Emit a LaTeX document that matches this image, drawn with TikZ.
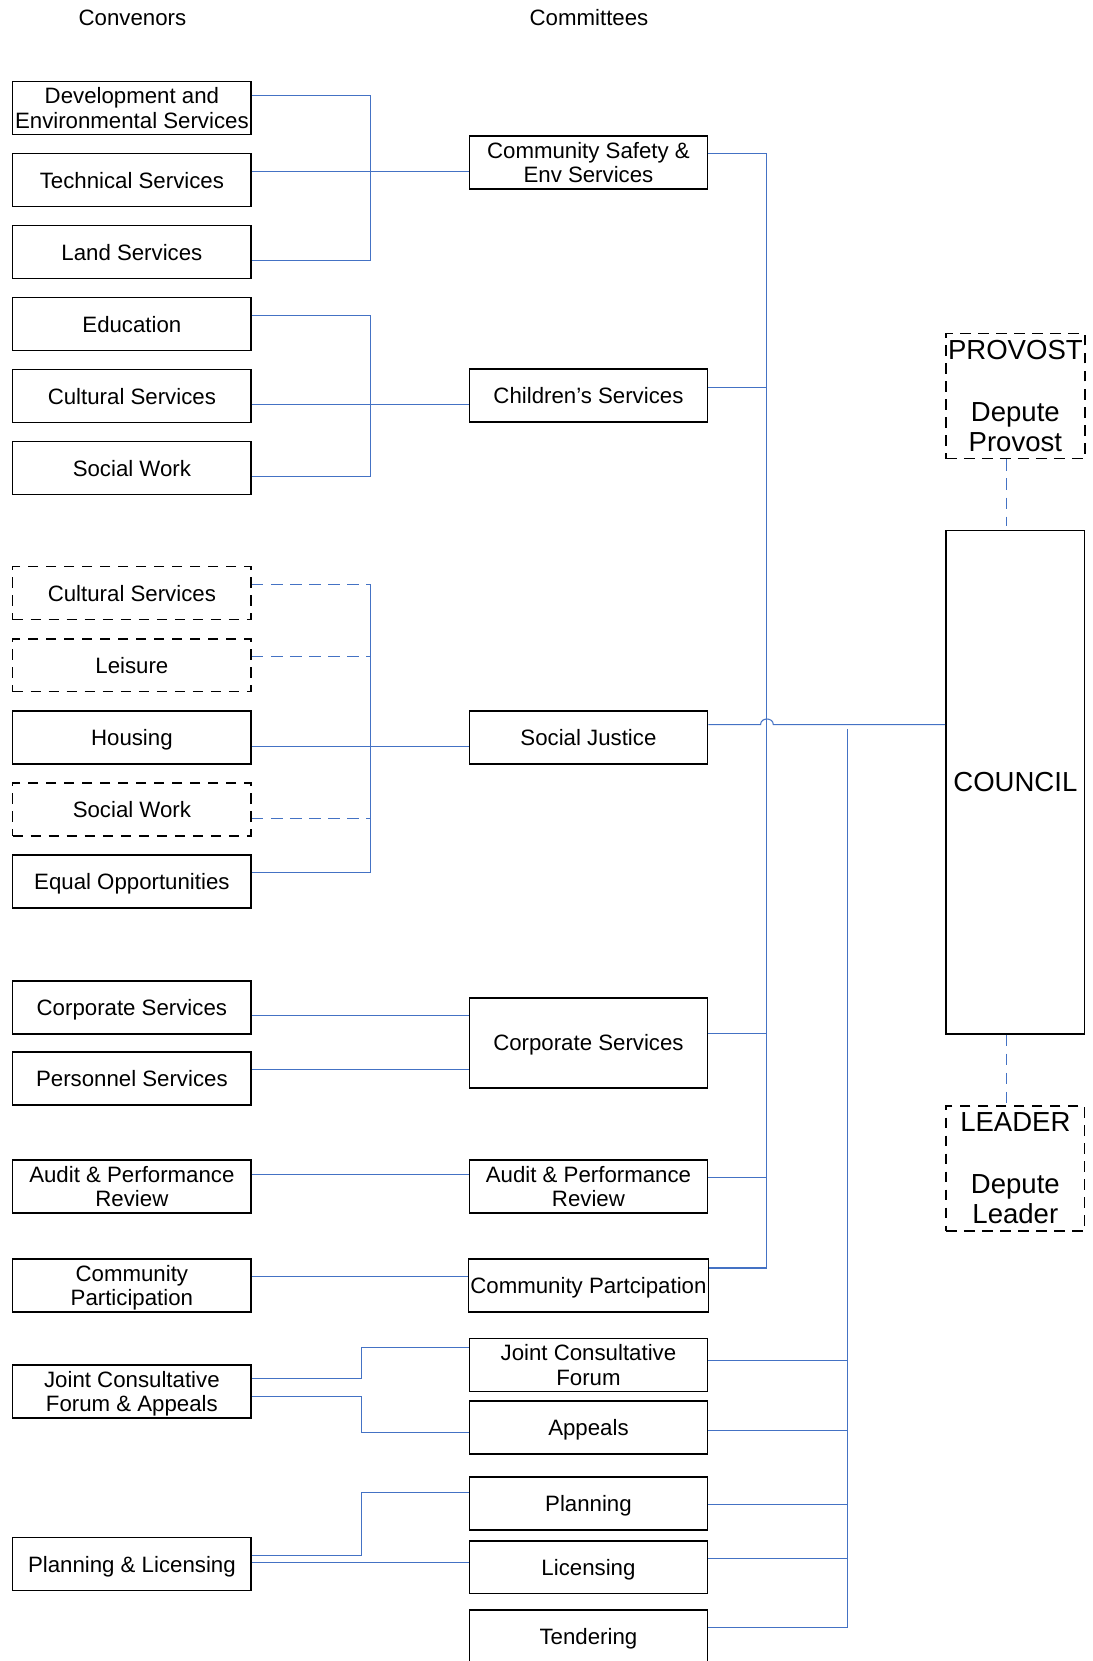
\documentclass[tikz,border=0pt]{standalone}
\usepackage{fontspec}
\setmainfont{Liberation Sans}
\definecolor{linkblue}{RGB}{68,114,196}
\begin{document}
\begin{tikzpicture}[x=0.5pt, y=-0.5pt,
  box/.style={draw, line width=0.7pt, minimum width=112.5pt, minimum height=25pt,
    inner sep=1pt, text depth=0pt, align=center, font=\fontsize{10.5}{11.5}\selectfont},
  dbox/.style={box, dash pattern=on 5pt off 3.5pt},
  bigbox/.style={box, minimum width=65.5pt, font=\fontsize{13}{14.5}\selectfont},
  head/.style={font=\fontsize{10.5}{11.5}\selectfont},
  link/.style={draw=linkblue, line width=0.5pt},
  dlink/.style={link, dash pattern=on 5.5pt off 3.5pt}]
  \useasboundingbox (0,0) rectangle (1031,1568);

  \node[head] (convenors) at (125,17) {Convenors};
  \node[head] (committees) at (556,17) {Committees};

  % convenors
  \node[box] (devenv) at (124.5,102) {Development and\\Environmental Services};
  \node[box] (tech) at (124.5,170) {Technical Services};
  \node[box] (land) at (124.5,238) {Land Services};
  \node[box] (educ) at (124.5,306) {Education};
  \node[box] (cult) at (124.5,374) {Cultural Services};
  \node[box] (swork) at (124.5,442) {Social Work};
  \node[dbox] (cult2) at (124.5,560) {Cultural Services};
  \node[dbox] (leis) at (124.5,628) {Leisure};
  \node[box] (hous) at (124.5,696) {Housing};
  \node[dbox] (swork2) at (124.5,764) {Social Work};
  \node[box] (equal) at (124.5,832) {Equal Opportunities};
  \node[box] (corp) at (124.5,951) {Corporate Services};
  \node[box] (pers) at (124.5,1018) {Personnel Services};
  \node[box] (audit) at (124.5,1120) {Audit \& Performance\\Review};
  \node[box] (comm) at (124.5,1213.5) {Community\\Participation};
  \node[box] (jcfa) at (124.5,1313.5) {Joint Consultative\\Forum \& Appeals};
  \node[box] (plan) at (124.5,1476.5) {Planning \& Licensing};

  % committees
  \node[box] (safety) at (555.5,153.5) {Community Safety \&\\Env Services};
  \node[box] (child) at (555.5,373.5) {Children’s Services};
  \node[box] (just) at (555.5,696) {Social Justice};
  \node[box, minimum height=42.5pt] (corpc) at (555.5,984.5) {Corporate Services};
  \node[box] (auditc) at (555.5,1120) {Audit \& Performance\\Review};
  \node[box] (commc) at (555.5,1213.5) {Community Partcipation};
  \node[box] (jcf) at (555.5,1288.5) {Joint Consultative\\Forum};
  \node[box] (appeals) at (555.5,1347.5) {Appeals};
  \node[box] (planc) at (555.5,1419.5) {Planning};
  \node[box] (lic) at (555.5,1479.5) {Licensing};
  \node[box] (tender) at (555.5,1545) {Tendering};

  % council
  \node[bigbox, minimum height=237.5pt] (council) at (958.5,738.5) {COUNCIL};
  \node[bigbox, dash pattern=on 5pt off 3.5pt, minimum height=59pt] (provost) at (958.5,374)
    {PROVOST\\[14.5pt]Depute\\Provost};
  \node[bigbox, dash pattern=on 5pt off 3.5pt, minimum height=59pt] (leader) at (958.5,1103)
    {LEADER\\[14.5pt]Depute\\Leader};

  \coordinate (j1) at (350,162);
  \coordinate (j2) at (350,382);
  \coordinate (j3) at (350,705);
  \coordinate (k1) at (341,1272);
  \coordinate (k2) at (341,1352);
  \coordinate (k3) at (341,1409);
  \coordinate (r1) at (724,145);
  \coordinate (r2) at (724,1197);
  \coordinate (h1) at (718,684);
  \coordinate (h2) at (730,684);
  \coordinate (s1) at (800,688);
  \coordinate (s2) at (800,1536);
  \coordinate (ctop) at (950,497);
  \coordinate (lbot) at (950,1041);

  % convenors to committees
  \draw[link] (devenv.east |- 0,90) -| (j1) |- (land.east |- 0,246);
  \draw[link] (tech.east |- j1) -- (safety.west |- j1);
  \draw[link] (educ.east |- 0,298) -| (j2) |- (swork.east |- 0,450);
  \draw[link] (cult.east |- j2) -- (child.west |- j2);
  \draw[link] (j3 |- 0,552) |- (equal.east |- 0,824);
  \draw[dlink] (cult2.east |- 0,552) -- (j3 |- 0,552);
  \draw[dlink] (leis.east |- 0,620) -- (j3 |- 0,620);
  \draw[dlink] (swork2.east |- 0,773) -- (j3 |- 0,773);
  \draw[link] (hous.east |- j3) -- (just.west |- j3);
  \draw[link] (corp.east |- 0,959) -- (corpc.west |- 0,959);
  \draw[link] (pers.east |- 0,1010) -- (corpc.west |- 0,1010);
  \draw[link] (audit.east |- 0,1109) -- (auditc.west |- 0,1109);
  \draw[link] (comm.east |- 0,1205) -- (commc.west |- 0,1205);
  \draw[link] (jcfa.east |- 0,1301) -| (k1) -- (jcf.west |- k1);
  \draw[link] (jcfa.east |- 0,1318) -| (k2) -- (appeals.west |- k2);
  \draw[link] (plan.east |- 0,1468) -| (k3) -- (planc.west |- k3);
  \draw[link] (plan.east |- 0,1475) -- (lic.west |- 0,1475);

  % committees to council
  \draw[link] (safety.east |- r1) -- (r1) -- (r2) -- (commc.east |- r2);
  \draw[link] (child.east |- 0,366) -- (r1 |- 0,366);
  \draw[link] (corpc.east |- 0,976) -- (r1 |- 0,976);
  \draw[link] (auditc.east |- 0,1112) -- (r1 |- 0,1112);
  \draw[link] (just.east |- h1) -- (h1) .. controls (718,677) and (730,677) .. (h2)
    -- (council.west |- h2);
  \draw[link] (s1) -- (s2) -- (tender.east |- s2);
  \draw[link] (jcf.east |- 0,1284) -- (s1 |- 0,1284);
  \draw[link] (appeals.east |- 0,1350) -- (s1 |- 0,1350);
  \draw[link] (planc.east |- 0,1420) -- (s1 |- 0,1420);
  \draw[link] (lic.east |- 0,1471) -- (s1 |- 0,1471);

  \draw[dlink] (provost.south -| ctop) -- (ctop);
  \draw[dlink] (council.south -| lbot) -- (lbot);
\end{tikzpicture}
\end{document}
